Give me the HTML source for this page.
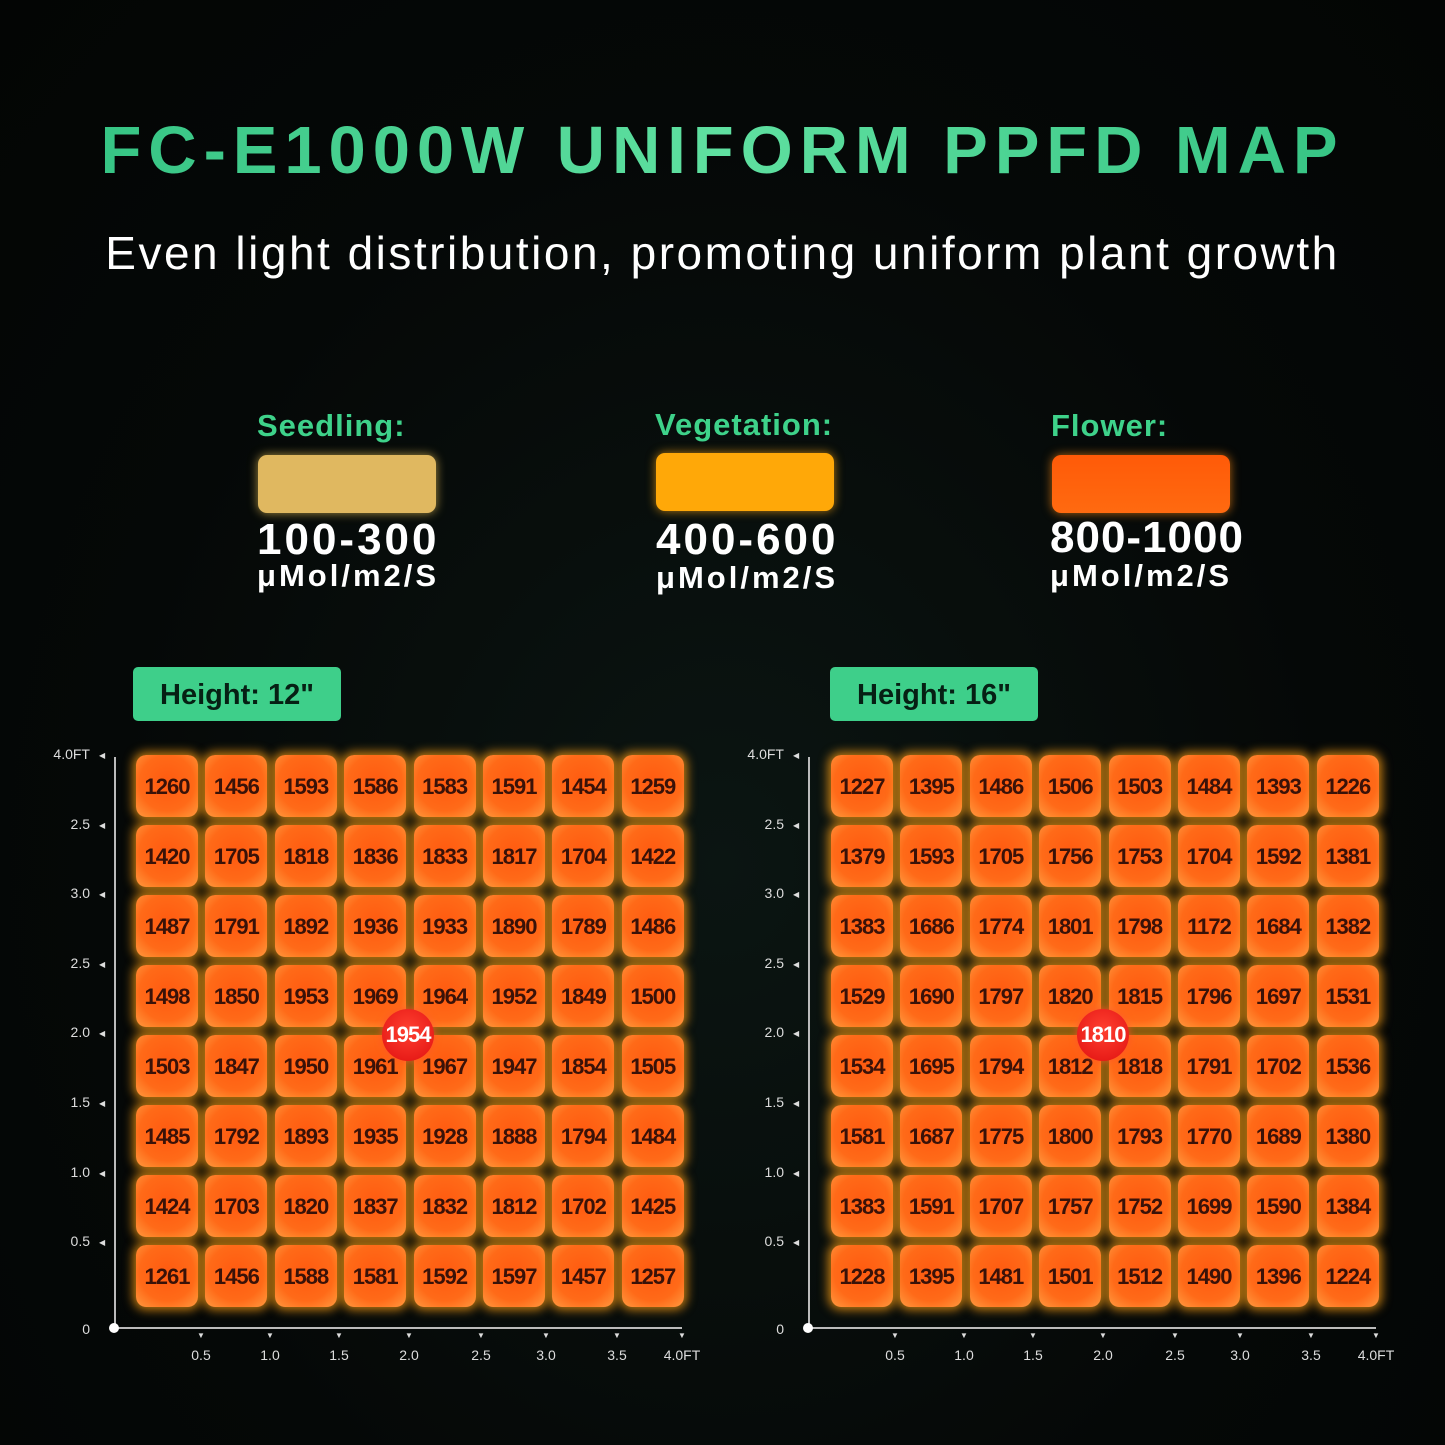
<!DOCTYPE html>
<html><head><meta charset="utf-8"><style>
body{margin:0;width:1445px;height:1445px;overflow:hidden;background:radial-gradient(ellipse at 50% 60%,#0b1512 0%,#050807 60%,#030504 100%);font-family:"Liberation Sans",sans-serif;position:relative}
.a{position:absolute}
.t{left:0;width:1445px;text-align:center;top:112px;font-size:67px;font-weight:bold;letter-spacing:6.9px;color:#3ed28a;background:linear-gradient(90deg,#30c080,#5fe0a0,#30c080);-webkit-background-clip:text;-webkit-text-fill-color:transparent}
.s{left:0;width:1445px;text-align:center;top:226px;font-size:46px;color:#fff;letter-spacing:2.5px}
.lg{font-size:31px;font-weight:bold;color:#3ed28a;letter-spacing:1px}
.lb{width:178px;height:58px;border-radius:9px}
.lv{font-size:44px;font-weight:bold;color:#fff;line-height:40px;letter-spacing:3px}
.lu{font-size:31px;font-weight:bold;color:#fff;letter-spacing:3px}
.h{width:208px;height:54px;background:#3ecf8a;border-radius:5px;color:#062014;font-size:29px;font-weight:bold;text-align:center;line-height:56px}
.c{width:62px;height:62px;border-radius:10px;background:radial-gradient(circle at 50% 45%,#ff5a10,#ff6a18 60%,#ff9a40);box-shadow:0 0 10px 3px rgba(255,160,20,.75);color:#3a1208;font-weight:bold;font-size:22px;line-height:64px;text-align:center;letter-spacing:-1px}
.d{width:52px;height:52px;border-radius:50%;background:radial-gradient(circle at 50% 40%,#ff4030,#e01010);color:#fff;font-weight:bold;font-size:22px;line-height:52px;text-align:center;letter-spacing:-1px;box-shadow:0 0 8px rgba(255,80,40,.8)}
.yl{font-size:14px;color:#ddd;text-align:right;width:60px}
.xl{font-size:14px;color:#ddd;text-align:center;width:50px}
</style></head><body>
<div class="a t">FC-E1000W UNIFORM PPFD MAP</div>
<div class="a s">Even light distribution, promoting uniform plant growth</div>

<div class="a lg" style="left:257px;top:408px">Seedling:</div>
<div class="a lb" style="left:258px;top:455px;background:#e0b860;box-shadow:0 0 10px rgba(240,200,90,.7)"></div>
<div class="a lv" style="left:257px;top:520px">100-300</div>
<div class="a lu" style="left:257px;top:558px">μMol/m2/S</div>

<div class="a lg" style="left:655px;top:407px">Vegetation:</div>
<div class="a lb" style="left:656px;top:453px;background:#ffa808;box-shadow:0 0 10px rgba(255,170,20,.7)"></div>
<div class="a lv" style="left:656px;top:520px">400-600</div>
<div class="a lu" style="left:656px;top:560px">μMol/m2/S</div>

<div class="a lg" style="left:1051px;top:408px">Flower:</div>
<div class="a lb" style="left:1052px;top:455px;background:linear-gradient(#ff5a08,#ff6a10);box-shadow:0 0 10px rgba(255,140,20,.7)"></div>
<div class="a lv" style="left:1050px;top:518px;letter-spacing:1px">800-1000</div>
<div class="a lu" style="left:1050px;top:558px">μMol/m2/S</div>

<div class="a h" style="left:133px;top:667px">Height: 12"</div>
<div class="a h" style="left:830px;top:667px">Height: 16"</div>
<div id="g"></div>
<script>
var A=[[1260,1456,1593,1586,1583,1591,1454,1259],[1420,1705,1818,1836,1833,1817,1704,1422],[1487,1791,1892,1936,1933,1890,1789,1486],[1498,1850,1953,1969,1964,1952,1849,1500],[1503,1847,1950,1961,1967,1947,1854,1505],[1485,1792,1893,1935,1928,1888,1794,1484],[1424,1703,1820,1837,1832,1812,1702,1425],[1261,1456,1588,1581,1592,1597,1457,1257]];
var B=[[1227,1395,1486,1506,1503,1484,1393,1226],[1379,1593,1705,1756,1753,1704,1592,1381],[1383,1686,1774,1801,1798,1172,1684,1382],[1529,1690,1797,1820,1815,1796,1697,1531],[1534,1695,1794,1812,1818,1791,1702,1536],[1581,1687,1775,1800,1793,1770,1689,1380],[1383,1591,1707,1757,1752,1699,1590,1384],[1228,1395,1481,1501,1512,1490,1396,1224]];
var h="";
function grid(D,ox,ax,center){
 for(var r=0;r<8;r++)for(var c=0;c<8;c++)
  h+='<div class="a c" style="left:'+(ox+c*69.4)+'px;top:'+(755+r*70)+'px">'+D[r][c]+'</div>';
 h+='<div class="a d" style="left:'+(ox+272-26)+'px;top:1009px">'+center+'</div>';
 h+='<div class="a" style="left:'+ax+'px;top:757px;width:2px;height:572px;background:#bbb"></div>';
 h+='<div class="a" style="left:'+ax+'px;top:1327px;width:'+(568)+'px;height:2px;background:#bbb"></div>';
 h+='<div class="a" style="left:'+(ax-5)+'px;top:1323px;width:10px;height:10px;border-radius:50%;background:#fff"></div>';
 var yl=["4.0FT","2.5","3.0","2.5","2.0","1.5","1.0","0.5"];
 for(var i=0;i<8;i++){var y=755+i*69.6;
  h+='<div class="a yl" style="left:'+(ax-84)+'px;top:'+(y-9)+'px">'+yl[i]+'</div><div class="a" style="left:'+(ax-15)+'px;top:'+(y-4)+'px;color:#ddd;font-size:8px">◀</div>';}
 h+='<div class="a yl" style="left:'+(ax-84)+'px;top:1321px">0</div>';
 var xl=["0.5","1.0","1.5","2.0","2.5","3.0","3.5","4.0FT"],xs=[87,156,225,295,367,432,503,568];
 for(var i=0;i<8;i++){var x=ax+xs[i];
  h+='<div class="a xl" style="left:'+(x-25)+'px;top:1347px">'+xl[i]+'</div><div class="a" style="left:'+(x-4)+'px;top:1331px;color:#ddd;font-size:8px">▼</div>';}
}
grid(A,136,114,1954);
grid(B,831,808,1810);
document.getElementById("g").innerHTML=h;
</script>
</body></html>
